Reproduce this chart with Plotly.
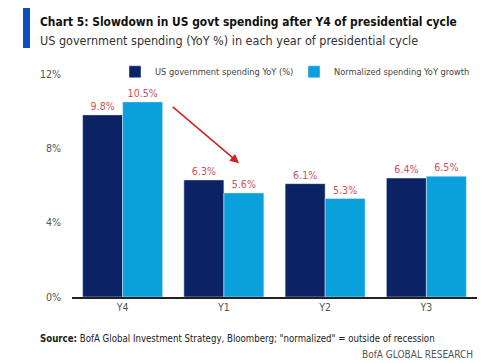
import plotly.graph_objects as go

categories = ["Y4", "Y1", "Y2", "Y3"]
us_spending = [9.8, 6.3, 6.1, 6.4]
normalized = [10.5, 5.6, 5.3, 6.5]
tick_vals = [0, 4, 8, 12]
tick_text = ["0%", "4%", "8%", "12%"]

NAVY = "#0b2265"
LIGHT = "#0aa0dc"
RED = "#d0505a"
FONT = "DejaVu Sans Condensed, Roboto, sans-serif"

fig = go.Figure()
fig.add_trace(go.Bar(
    x=categories, y=us_spending, name="US government spending YoY (%)",
    marker_color=NAVY, text=[f"{v:.1f}%" for v in us_spending],
    textposition="outside", textfont=dict(color=RED, size=10.5, family=FONT),
    cliponaxis=False,
))
fig.add_trace(go.Bar(
    x=categories, y=normalized, name="Normalized spending YoY growth",
    marker_color=LIGHT, text=[f"{v:.1f}%" for v in normalized],
    textposition="outside", textfont=dict(color=RED, size=10.5, family=FONT),
    cliponaxis=False,
))

fig.update_layout(
    width=500, height=363,
    margin=dict(l=72, r=23, t=74, b=66),
    paper_bgcolor="white", plot_bgcolor="white",
    barmode="group", bargap=0.21, bargroupgap=0,
    font=dict(family=FONT, color="#444", size=11),
    showlegend=True,
    legend=dict(orientation="h", x=(115 - 72) / 405, y=1.01, xanchor="left", yanchor="middle",
                font=dict(size=9.2, color="#444"), itemwidth=30,
                entrywidth=134, entrywidthmode="pixels",
                traceorder="normal", bgcolor="rgba(0,0,0,0)"),
    xaxis=dict(showgrid=False, showline=True, linecolor="#222", linewidth=1.5,
               ticks="", tickfont=dict(size=10.5, color="#555")),
    yaxis=dict(range=[0, 12], tickvals=tick_vals, ticktext=tick_text, showgrid=False,
               zeroline=False, showline=False, ticks="", ticklabelstandoff=10,
               tickfont=dict(size=10.5, color="#555")),
)

# title bar
fig.add_shape(type="rect", xref="paper", yref="paper", x0=(23 - 72) / 405, x1=(30 - 72) / 405,
              y0=1 + (74 - 48) / 223, y1=1 + (74 - 8) / 223, fillcolor="#0a4fc0",
              line_width=0, layer="above")
fig.add_annotation(xref="paper", yref="paper", x=(38 - 72) / 405, y=1 + (74 - 22) / 223,
                   text="<b>Chart 5: Slowdown in US govt spending after Y4 of presidential cycle</b>",
                   showarrow=False, xanchor="left", yanchor="middle",
                   font=dict(size=11.9, color="#111", family=FONT))
fig.add_annotation(xref="paper", yref="paper", x=(38 - 72) / 405, y=1 + (74 - 40) / 223,
                   text="US government spending (YoY %) in each year of presidential cycle",
                   showarrow=False, xanchor="left", yanchor="middle",
                   font=dict(size=12.5, color="#333", family=FONT))
fig.add_annotation(xref="paper", yref="paper", x=(38 - 72) / 405, y=-(338 - 297) / 223,
                   text="<b>Source:</b> BofA Global Investment Strategy, Bloomberg; \"normalized\" = outside of recession",
                   showarrow=False, xanchor="left", yanchor="middle",
                   font=dict(size=9.6, color="#222", family=FONT))
fig.add_annotation(xref="paper", yref="paper", x=(475 - 72) / 405, y=-(354 - 297) / 223,
                   text="BofA GLOBAL RESEARCH",
                   showarrow=False, xanchor="right", yanchor="middle",
                   font=dict(size=10, color="#555", family=FONT))
# red arrow
fig.add_annotation(xref="x", yref="y", x=1.15, y=7.2, ax=0.48, ay=10.3,
                   axref="x", ayref="y", text="", showarrow=True,
                   arrowhead=2, arrowsize=1.2, arrowwidth=1.5, arrowcolor="#d42020")

fig.write_html("out.html", config={"displayModeBar": False},
               post_script="document.body.style.margin='0';")
